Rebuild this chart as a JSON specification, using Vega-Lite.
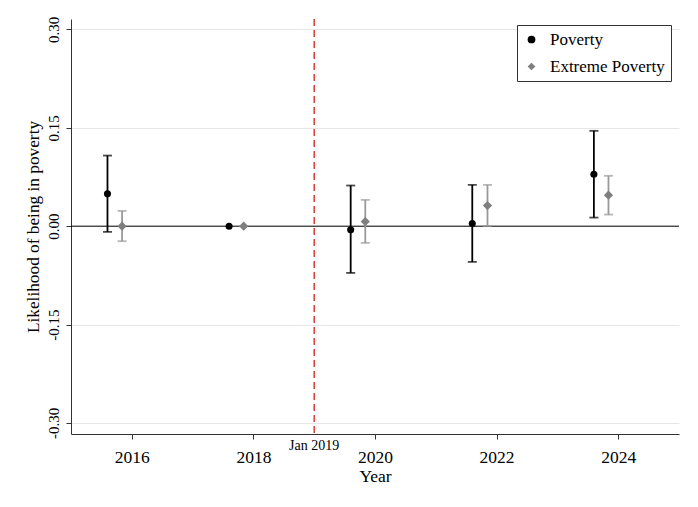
{
  "$schema": "https://vega.github.io/schema/vega-lite/v6.json",
  "width": 608,
  "height": 415,
  "autosize": "none",
  "padding": {"left": 71, "top": 19, "right": 19, "bottom": 73},
  "config": {
    "font": "Liberation Serif",
    "view": {"stroke": null},
    "axis": {"labelFont": "Liberation Serif", "titleFont": "Liberation Serif", "labelColor": "black", "titleColor": "black", "titleFontWeight": "normal", "domainColor": "#333", "tickColor": "#333"},
    "legend": {"labelFont": "Liberation Serif"}
  },
  "datasets": {
    "est": [
      {"series": "Poverty", "x": 2015.6, "est": 0.0493, "lo": -0.0087, "hi": 0.1077},
      {"series": "Extreme Poverty", "x": 2015.84, "est": 0.0, "lo": -0.0229, "hi": 0.0233},
      {"series": "Poverty", "x": 2017.6, "est": 0.0, "lo": null, "hi": null},
      {"series": "Extreme Poverty", "x": 2017.84, "est": 0.0, "lo": null, "hi": null},
      {"series": "Poverty", "x": 2019.6, "est": -0.0056, "lo": -0.0713, "hi": 0.062},
      {"series": "Extreme Poverty", "x": 2019.84, "est": 0.007, "lo": -0.0255, "hi": 0.0401},
      {"series": "Poverty", "x": 2021.6, "est": 0.004, "lo": -0.0545, "hi": 0.063},
      {"series": "Extreme Poverty", "x": 2021.85, "est": 0.0314, "lo": 0.0, "hi": 0.063},
      {"series": "Poverty", "x": 2023.6, "est": 0.0793, "lo": 0.0131, "hi": 0.1454},
      {"series": "Extreme Poverty", "x": 2023.84, "est": 0.0473, "lo": 0.0177, "hi": 0.0768}
    ]
  },
  "layer": [
    {
      "data": {"values": [{"y": 0}]},
      "mark": {"type": "rule", "color": "black", "strokeWidth": 1},
      "encoding": {
        "y": {"field": "y", "type": "quantitative", "scale": {"domain": [-0.317, 0.316], "nice": false, "zero": false},
          "axis": {"values": [-0.3, -0.15, 0, 0.15, 0.3], "labelExpr": "datum.value < 0 ? '-' + format(-datum.value, '.2f') : format(datum.value, '.2f')", "labelAngle": -90, "labelAlign": "center", "labelBaseline": "bottom", "labelFontSize": 15, "labelPadding": 5, "tickSize": 5, "grid": true, "gridColor": "#e6e6e6", "gridWidth": 1, "title": "Likelihood of being in poverty", "titleFontSize": 17.3, "titlePadding": 4}}
      }
    },
    {
      "data": {"values": [{"x": 2019}]},
      "mark": {"type": "rule", "color": "#d62020", "strokeWidth": 1.3, "strokeDash": [7, 4]},
      "encoding": {
        "x": {"field": "x", "type": "quantitative", "scale": {"domain": [2015, 2025], "nice": false, "zero": false},
          "axis": {"values": [2016, 2018, 2020, 2022, 2024], "format": "d", "labelFontSize": 17.5, "labelPadding": 9, "tickSize": 5, "grid": false, "title": "Year", "titleFontSize": 17.5, "titlePadding": 2}}
      }
    },
    {
      "data": {"values": [{"x": 2019, "y": -0.317, "label": "Jan 2019"}]},
      "mark": {"type": "text", "fontSize": 14, "baseline": "top", "dy": 5, "clip": false, "color": "black"},
      "encoding": {
        "x": {"field": "x", "type": "quantitative"},
        "y": {"field": "y", "type": "quantitative"},
        "text": {"field": "label"}
      }
    },
    {
      "data": {"name": "est"},
      "transform": [{"filter": "datum.lo != null"}],
      "mark": {"type": "rule", "strokeWidth": 1.8},
      "encoding": {
        "x": {"field": "x", "type": "quantitative"},
        "y": {"field": "lo", "type": "quantitative"},
        "y2": {"field": "hi"},
        "color": {"condition": {"test": "datum.series === 'Poverty'", "value": "black"}, "value": "#999999"}
      }
    },
    {
      "data": {"name": "est"},
      "transform": [{"filter": "datum.lo != null"}],
      "mark": {"type": "tick", "orient": "horizontal", "size": 9, "thickness": 1.8},
      "encoding": {
        "x": {"field": "x", "type": "quantitative"},
        "y": {"field": "lo", "type": "quantitative"},
        "color": {"condition": {"test": "datum.series === 'Poverty'", "value": "black"}, "value": "#999999"}
      }
    },
    {
      "data": {"name": "est"},
      "transform": [{"filter": "datum.lo != null"}],
      "mark": {"type": "tick", "orient": "horizontal", "size": 9, "thickness": 1.8},
      "encoding": {
        "x": {"field": "x", "type": "quantitative"},
        "y": {"field": "hi", "type": "quantitative"},
        "color": {"condition": {"test": "datum.series === 'Poverty'", "value": "black"}, "value": "#999999"}
      }
    },
    {
      "data": {"name": "est"},
      "mark": {"type": "point", "filled": true, "opacity": 1},
      "encoding": {
        "x": {"field": "x", "type": "quantitative"},
        "y": {"field": "est", "type": "quantitative"},
        "color": {"field": "series", "type": "nominal", "scale": {"domain": ["Poverty", "Extreme Poverty"], "range": ["black", "#7f7f7f"]},
          "legend": {"title": null, "orient": "none", "legendX": 446, "legendY": 6, "fillColor": "white", "strokeColor": "#333", "padding": 6, "labelFontSize": 17, "symbolSize": 60, "rowPadding": 9, "labelOffset": 10, "symbolOpacity": 1}},
        "shape": {"field": "series", "type": "nominal", "scale": {"domain": ["Poverty", "Extreme Poverty"], "range": ["circle", "diamond"]},
          "legend": {"title": null, "orient": "none", "legendX": 446, "legendY": 6}},
        "size": {"condition": {"test": "datum.series === 'Poverty'", "value": 50}, "value": 85}
      }
    }
  ]
}
